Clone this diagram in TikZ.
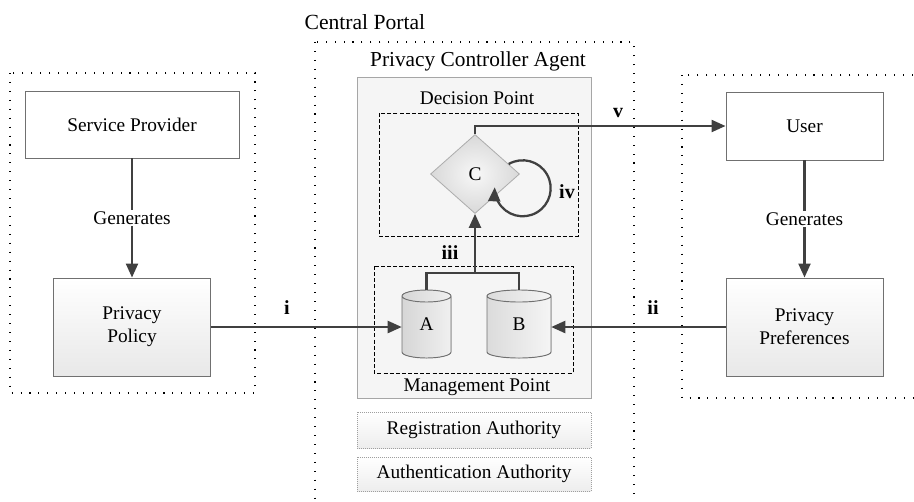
\documentclass[tikz,border=0pt]{standalone}
\usepackage{fontspec}
\setmainfont{Liberation Serif}
\usetikzlibrary{arrows.meta,shapes.geometric,calc}
\definecolor{linegray}{HTML}{404040}
\definecolor{boxedge}{HTML}{707070}
\definecolor{panelfill}{HTML}{F5F5F5}
\tikzset{
  region/.style={draw=black, line width=0.8pt, dash pattern=on 0.8pt off 5.9pt},
  zone/.style={draw=black, line width=0.6pt, dash pattern=on 3pt off 1.6pt},
  plainbox/.style={draw=boxedge, line width=0.7pt, fill=white, align=center,
    inner sep=0pt, minimum width=#1},
  shadebox/.style={draw=boxedge, line width=0.7pt, top color=white, bottom color=gray!18,
    align=center, inner sep=0pt},
  authbox/.style={draw=gray!75, line width=0.5pt, densely dotted, top color=white,
    bottom color=gray!14, inner sep=0pt, minimum width=234*0.75pt},
  arr/.style={draw=linegray, line width=1.7pt, -{Triangle[length=10.5pt,width=9pt]}},
  link/.style={draw=linegray, line width=1.7pt},
  tag/.style={font=\fontsize{15}{18}\selectfont\bfseries, inner sep=1pt},
  lbl/.style={inner sep=1pt},
}
\begin{document}
\begin{tikzpicture}[x=0.75pt,y=-0.75pt, font=\fontsize{14.5}{17.5}\selectfont]
\useasboundingbox (0,0) rectangle (914,501);

% outer regions
\draw[region] (315,42) rectangle (634,515);
\draw[region] (10,73) rectangle (255,393);
\draw[region] (682,75) rectangle (930,398);
\node[lbl, anchor=west, font=\fontsize{16.2}{19}\selectfont] (portal) at (303,22) {Central Portal};

% privacy controller agent panel
\draw[draw=gray!70, line width=0.5pt, fill=panelfill] (357,77) rectangle (591,398);
\node[lbl, font=\fontsize{16}{19}\selectfont] (agent) at (478,61) {Privacy Controller Agent};
\node[lbl] (dp) at (477,98) {Decision Point};
\draw[zone] (379,113) rectangle (578,236);
\draw[zone] (374,266) rectangle (573,373);
\node[lbl] (mp) at (477,387) {Management Point};

% authorities
\node[authbox, minimum height=36*0.75pt] (reg) at (474,430) {Registration Authority};
\node[authbox, minimum height=34*0.75pt] (auth) at (474,474) {Authentication Authority};

% provider side
\node[plainbox=214*0.75pt, minimum height=67*0.75pt] (sp) at (132,124.5) {Service Provider};
\node[shadebox, minimum width=157*0.75pt, minimum height=98*0.75pt] (pp) at (132,327) {Privacy\\Policy};

% user side
\node[plainbox=157*0.75pt, minimum height=68*0.75pt] (user) at (804.5,126) {User};
\node[shadebox, minimum width=157*0.75pt, minimum height=98*0.75pt] (pref) at (804.5,327) {Privacy\\Preferences};

% decision node
\node[diamond, draw=gray!65, line width=0.6pt, inner color=gray!6, outer color=gray!30,
      minimum width=89*0.75pt, minimum height=79*0.75pt, inner sep=0pt] (C) at (475,174) {C};

% storage drums
\fill[left color=gray!32, right color=gray!12] (402,296) -- (402,352)
  arc[start angle=180, end angle=360, x radius=18.375pt, y radius=4.5pt]
  -- (451,296) arc[start angle=0, end angle=180, x radius=18.375pt, y radius=4.5pt] -- cycle;
\draw[draw=boxedge, line width=0.7pt] (402,296) -- (402,352)
  arc[start angle=180, end angle=360, x radius=18.375pt, y radius=4.5pt]
  -- (451,296) arc[start angle=0, end angle=180, x radius=18.375pt, y radius=4.5pt]
  arc[start angle=180, end angle=360, x radius=18.375pt, y radius=4.5pt];
\fill[left color=gray!28, right color=gray!8] (487,296) -- (487,352)
  arc[start angle=180, end angle=360, x radius=24pt, y radius=4.5pt]
  -- (551,296) arc[start angle=0, end angle=180, x radius=24pt, y radius=4.5pt] -- cycle;
\draw[draw=boxedge, line width=0.7pt] (487,296) -- (487,352)
  arc[start angle=180, end angle=360, x radius=24pt, y radius=4.5pt]
  -- (551,296) arc[start angle=0, end angle=180, x radius=24pt, y radius=4.5pt]
  arc[start angle=180, end angle=360, x radius=24pt, y radius=4.5pt];
\node[inner sep=0pt, minimum width=49*0.75pt, minimum height=68*0.75pt] (A) at (426.5,324) {A};
\node[inner sep=0pt, minimum width=64*0.75pt, minimum height=68*0.75pt] (B) at (519,324) {B};

% connectors
\draw[arr] (sp) -- node[lbl, fill=white] (gen1) {Generates} (pp);
\draw[arr] (user) -- node[lbl, fill=white] (gen2) {Generates} (pref);
\draw[arr] (pp.east) -- (pp.east -| A.west);
\draw[arr] (pref.west) -- (pref.west -| B.east);
\coordinate (jn) at (475,273);
\draw[link] (A.north) |- (jn) -| (B.north);
\draw[arr] (jn) -- (C.south);
\draw[arr] (C.north) |- (user.west);
\coordinate (loopa) at ($(C.north east)!0.5!(C.east)$);
\draw[arr] (loopa) arc[start angle=120, end angle=-182, radius=21pt];

% connector tags
\node[tag] (ti) at (287,308) {i};
\node[tag] (tii) at (653,308) {ii};
\node[tag] (tiii) at (450,253) {iii};
\node[tag] (tiv) at (567,192) {iv};
\node[tag] (tv) at (618,113) {v};
\end{tikzpicture}
\end{document}
